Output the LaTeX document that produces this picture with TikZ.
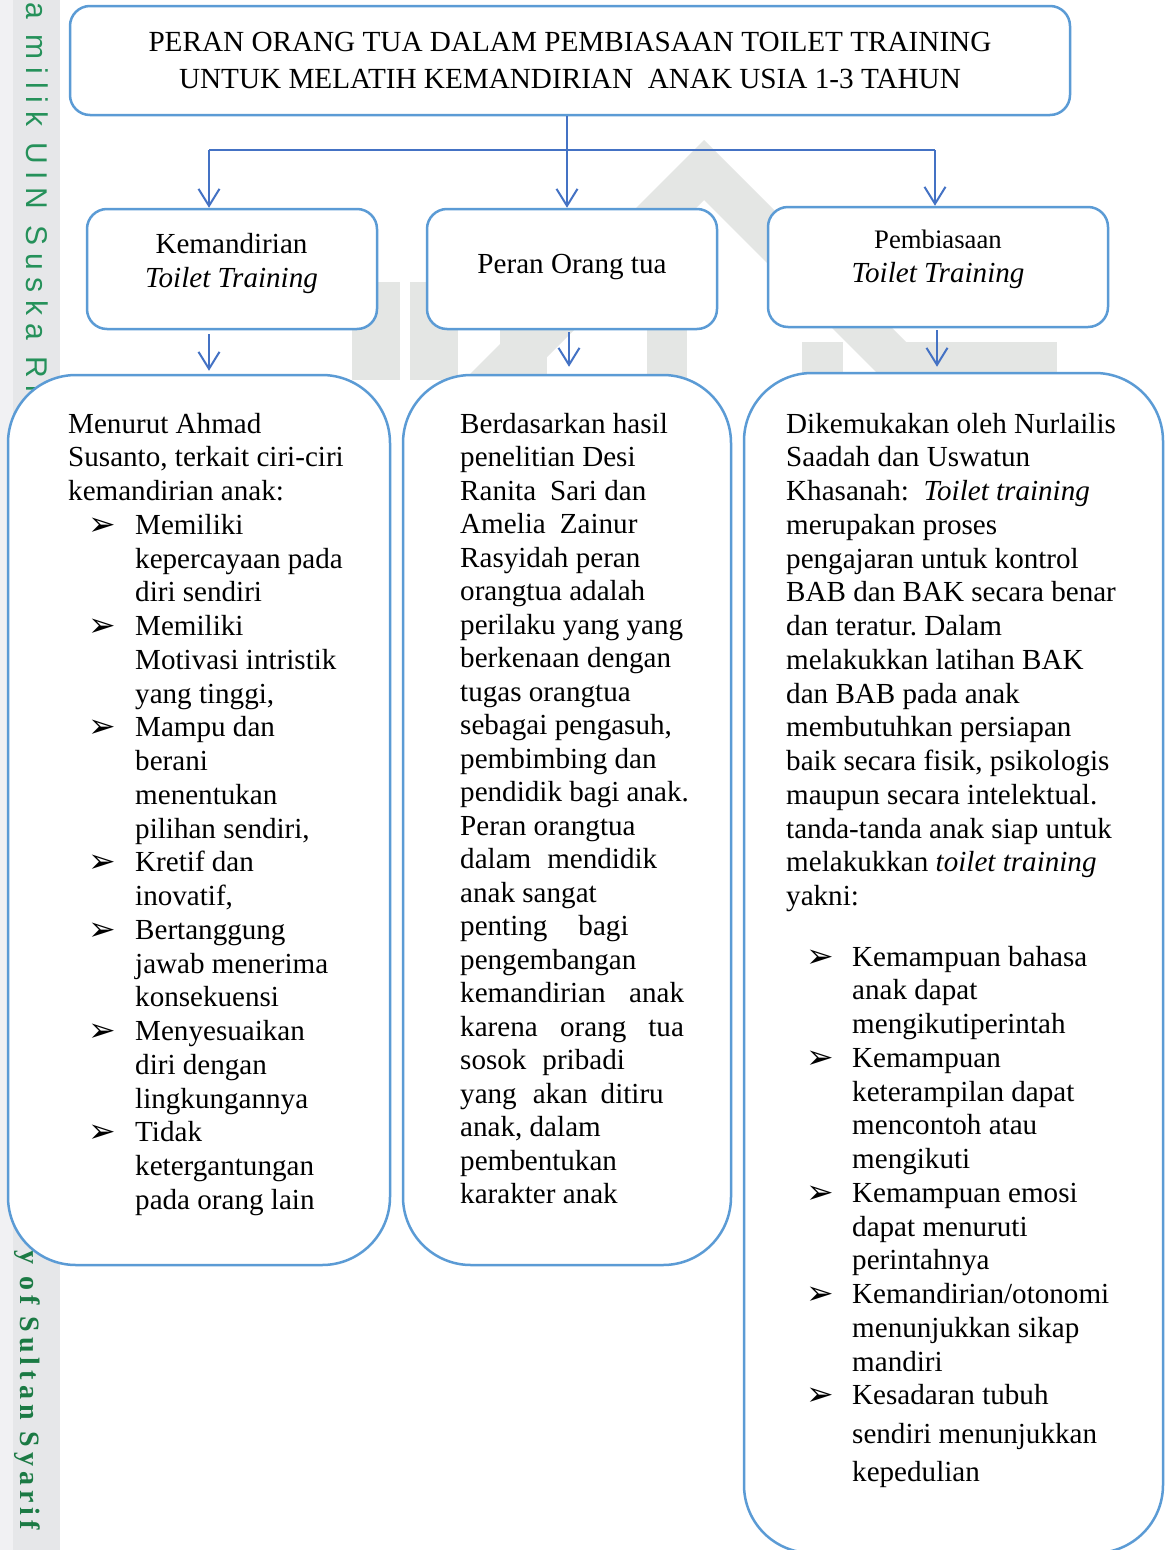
\documentclass[tikz,border=0pt]{standalone}
\usepackage{fontspec}
\setmainfont{Liberation Serif}
\newfontfamily\symfont{DejaVu Sans}
\newfontfamily\wmsans[LetterSpace=26]{Liberation Sans}
\newfontfamily\wmserif[LetterSpace=18]{Liberation Serif}
\usetikzlibrary{arrows.meta}
\definecolor{boxblue}{HTML}{5B9BD5}
\definecolor{linkblue}{HTML}{4472C4}
\definecolor{wmgray}{HTML}{E4E6E4}
\definecolor{stripA}{HTML}{F1F1F3}
\definecolor{stripB}{HTML}{E6E7E9}
\definecolor{wmgreen}{HTML}{25915A}
\definecolor{wmgreenD}{HTML}{1B7A44}
\newcommand{\bodyfont}{\fontsize{29.1}{33.75}\selectfont}
\newcommand{\arrbul}{\raisebox{-1pt}{\symfont\fontsize{33}{33}\selectfont ➢}}
\newcommand{\bulA}{\hspace*{20pt}\makebox[47pt][l]{\arrbul}}
\newcommand{\indA}{\hspace*{67pt}}
\newcommand{\bulC}{\hspace*{20pt}\makebox[46pt][l]{\arrbul}}
\newcommand{\indC}{\hspace*{66pt}}
\tikzset{
  smallbox/.style={draw=boxblue, line width=2.5pt, fill=white, rounded corners=20pt, inner sep=0pt},
  bigbox/.style={draw=boxblue, line width=2.5pt, fill=white, rounded corners=68pt, inner sep=0pt},
  conn/.style={draw=linkblue, line width=2pt},
  arr/.style={conn, -{Straight Barb[length=17pt,width=21pt]}},
  txt/.style={inner sep=0pt},
}
\begin{document}
\frenchspacing
\begin{tikzpicture}[x=1pt,y=-1pt]
\useasboundingbox (0,0) rectangle (1168,1550);
\fill[white] (0,0) rectangle (1168,1550);
% left strip
\fill[stripA] (0,0) rectangle (13,1550);
\fill[stripB] (13,0) rectangle (60,1550);
\node[rotate=-90, anchor=base west, txt, text=wmgreen, font=\wmsans\fontsize{30}{30}\selectfont] (wm1) at (27,2) {a milik UIN Suska Riau};
\node[rotate=-90, anchor=base west, txt, text=wmgreenD, font=\wmserif\bfseries\fontsize{28}{28}\selectfont] (wm2) at (20,1250) {y of Sultan Syarif};
% watermark logo (faint)
\fill[wmgray] (704,140) -- (1000,436) -- (1000,496) -- (704,200) -- (408,496) -- (408,436) -- cycle;
\fill[wmgray] (352,282) rectangle (400,380);
\fill[wmgray] (410,282) rectangle (458,380);
\fill[wmgray] (500,330) rectangle (547,380);
\fill[wmgray] (647,330) rectangle (687,380);
\fill[wmgray] (802,342) rectangle (843,380);
\fill[wmgray] (882,342) rectangle (1057,380);

% boxes
\node[smallbox, minimum width=1000pt, minimum height=109pt] (title) at (570,60.5) {};
\node[smallbox, minimum width=290pt, minimum height=120pt] (b1) at (232,269) {};
\node[smallbox, minimum width=290pt, minimum height=120pt] (b2) at (572,269) {};
\node[smallbox, minimum width=340pt, minimum height=120pt] (b3) at (938,267) {};
\node[bigbox, minimum width=382pt, minimum height=890pt] (B1) at (199,820) {};
\node[bigbox, minimum width=328pt, minimum height=890pt] (B2) at (567,820) {};
\node[bigbox, minimum width=419pt, minimum height=1180pt] (B3) at (953.5,963) {};

% texts
\node[txt, anchor=base] (ttitle) at (570,51) {\parbox[t]{1000pt}{\centering\fontsize{29.2}{37}\selectfont
PERAN ORANG TUA DALAM PEMBIASAAN TOILET TRAINING\\
UNTUK MELATIH KEMANDIRIAN\ \ ANAK USIA 1-3 TAHUN}};
\node[txt, anchor=base] (t1) at (231.5,253) {\parbox[t]{290pt}{\centering\fontsize{29.1}{34}\selectfont
Kemandirian\\ \textit{Toilet Training}}};
\node[txt, anchor=base] (t2) at (572,273) {\parbox[t]{290pt}{\centering\fontsize{29.1}{34}\selectfont
Peran Orang tua}};
\node[txt, anchor=base] (t3) at (938,248) {\parbox[t]{340pt}{\centering\fontsize{26.7}{34}\selectfont
Pembiasaan\\ \fontsize{29.1}{34}\selectfont\textit{Toilet Training}}};

\node[txt, anchor=base west] (tA) at (68,433) {\parbox[t]{330pt}{\bodyfont\raggedright
Menurut Ahmad\\
Susanto, terkait ciri-ciri\\
kemandirian anak:\\
\bulA Memiliki\\
\indA kepercayaan pada\\
\indA diri sendiri\\
\bulA Memiliki\\
\indA Motivasi intristik\\
\indA yang tinggi,\\
\bulA Mampu dan\\
\indA berani\\
\indA menentukan\\
\indA pilihan sendiri,\\
\bulA Kretif dan\\
\indA inovatif,\\
\bulA Bertanggung\\
\indA jawab menerima\\
\indA konsekuensi\\
\bulA Menyesuaikan\\
\indA diri dengan\\
\indA lingkungannya\\
\bulA Tidak\\
\indA ketergantungan\\
\indA pada orang lain}};

\node[txt, anchor=base west] (tB) at (460,433) {\parbox[t]{300pt}{\fontsize{29.1}{33.5}\selectfont\raggedright
Berdasarkan hasil\\
penelitian Desi\\
Ranita\hspace*{14pt}Sari dan\\
Amelia\hspace*{14pt}Zainur\\
Rasyidah peran\\
orangtua adalah\\
perilaku yang yang\\
berkenaan dengan\\
tugas orangtua\\
sebagai pengasuh,\\
pembimbing dan\\
pendidik bagi anak.\\
Peran orangtua\\
dalam\hspace*{16pt}mendidik\\
anak sangat\\
penting\hspace*{31pt}bagi\\
pengembangan\\
kemandirian\hspace*{23.5pt}anak\\
karena\hspace*{22.4pt}orang\hspace*{22pt}tua\\
sosok\hspace*{16pt}pribadi\\
yang\hspace*{16pt}akan\hspace*{13pt}ditiru\\
anak, dalam\\
pembentukan\\
karakter anak}};

\node[txt, anchor=base west] (tC) at (786,433) {\parbox[t]{380pt}{\bodyfont\raggedright
Dikemukakan oleh Nurlailis\\
Saadah dan Uswatun\\
Khasanah:\ \ \textit{Toilet training}\\
merupakan proses\\
pengajaran untuk kontrol\\
BAB dan BAK secara benar\\
dan teratur. Dalam\\
melakukkan latihan BAK\\
dan BAB pada anak\\
membutuhkan persiapan\\
baik secara fisik, psikologis\\
maupun secara intelektual.\\
tanda-tanda anak siap untuk\\
melakukkan \textit{toilet training}\\
yakni:\\[26.75pt]
\bulC Kemampuan bahasa\\
\indC anak dapat\\
\indC mengikutiperintah\\
\bulC Kemampuan\\
\indC keterampilan dapat\\
\indC mencontoh atau\\
\indC mengikuti\\
\bulC Kemampuan emosi\\
\indC dapat menuruti\\
\indC perintahnya\\
\bulC Kemandirian/otonomi\\
\indC menunjukkan sikap\\
\indC mandiri\\
\bulC Kesadaran tubuh\\[5pt]
\indC sendiri menunjukkan\\[4.5pt]
\indC kepedulian}};

% connectors
\coordinate (j) at (567,150);
\coordinate (jl) at (209,150);
\coordinate (jr) at (935,150);
\coordinate (c1) at (209,0);
\coordinate (c2) at (569,0);
\coordinate (c3) at (937,0);
\draw[conn] (title.south -| j) -- (j);
\draw[conn] (jl) -- (jr);
\draw[arr] (jl) -- (jl |- b1.north);
\draw[arr] (j) -- (j |- b2.north);
\draw[arr] (jr) -- (jr |- b3.north);
\draw[arr, shorten <=4pt, shorten >=3pt] (b1.south -| c1) -- (B1.north -| c1);
\draw[arr, shorten <=2pt, shorten >=7pt] (b2.south -| c2) -- (B2.north -| c2);
\draw[arr, shorten <=2pt, shorten >=5pt] (b3.south -| c3) -- (B3.north -| c3);
\end{tikzpicture}
\end{document}
